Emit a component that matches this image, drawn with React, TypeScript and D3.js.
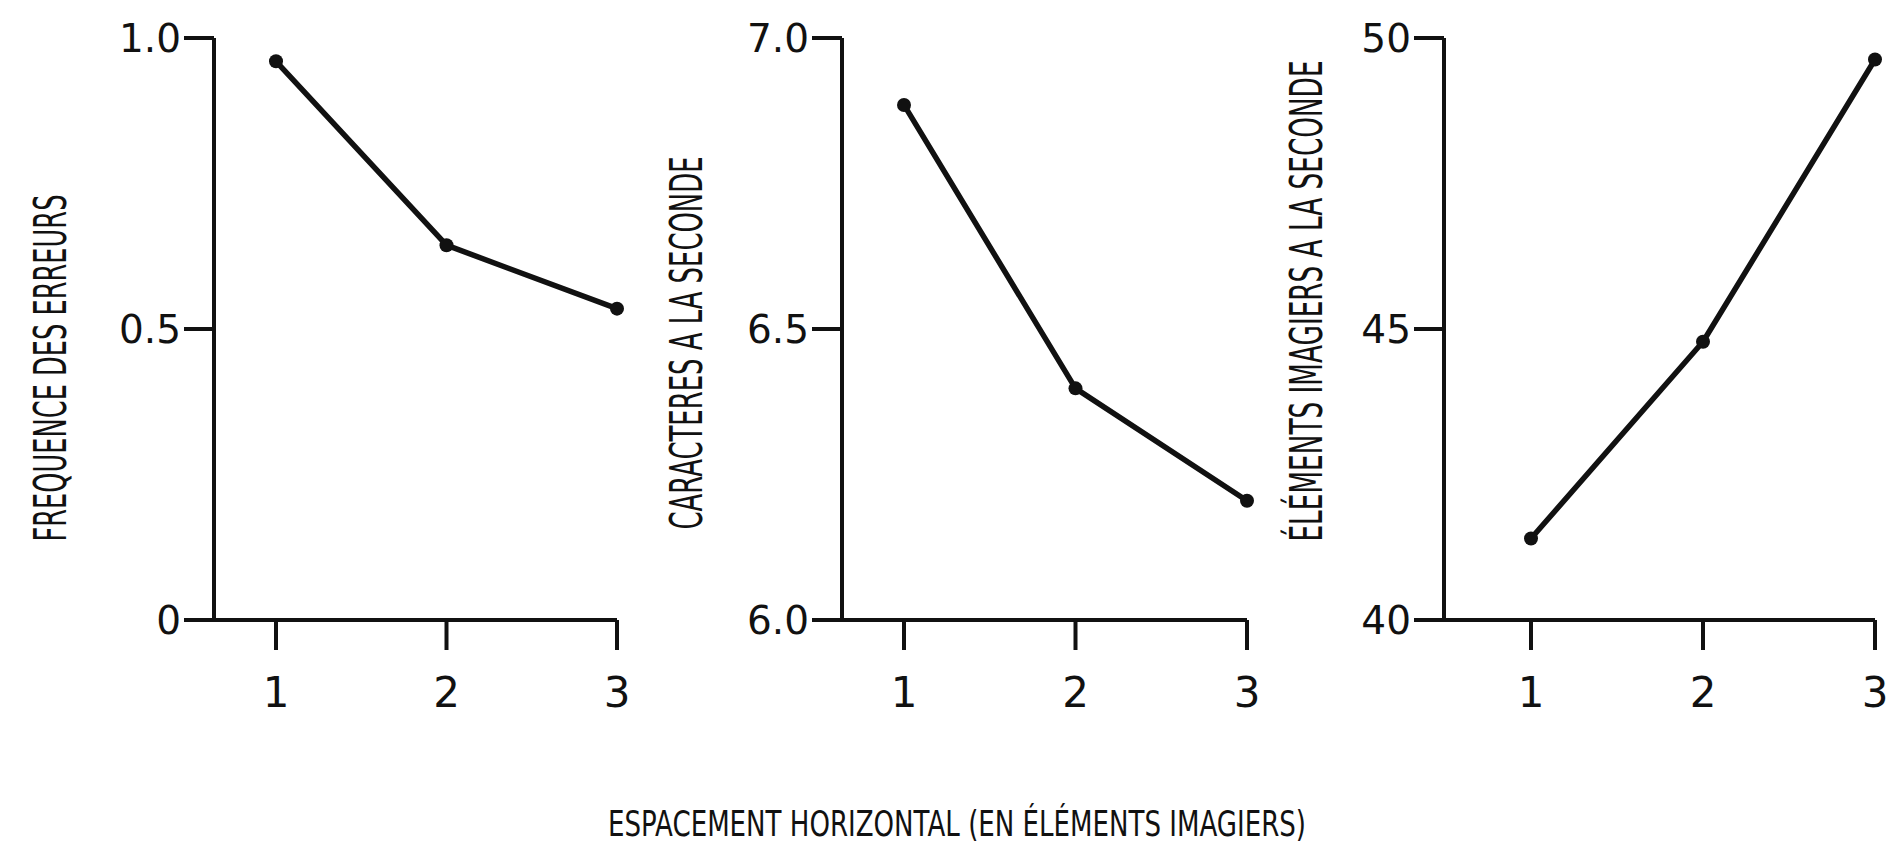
import React from "react";
import * as d3 from "d3";

// Horizontal spacing conditions (in picture elements)
const spacing = [1, 2, 3];

// Measured results per spacing condition
const errorFrequency = [0.96, 0.644, 0.535];
const charsPerSecond = [6.885, 6.398, 6.205];
const pixelsPerSecond = [41.4, 44.78, 49.63];

// Y-axis ticks and their printed labels
const errorTicks = [0, 0.5, 1.0];
const errorTickLabels = ["0", "0.5", "1.0"];
const charTicks = [6.0, 6.5, 7.0];
const charTickLabels = ["6.0", "6.5", "7.0"];
const pixelTicks = [40, 45, 50];
const pixelTickLabels = ["40", "45", "50"];

const xTickLabels = ["1", "2", "3"];

const yTitles = [
  "FREQUENCE DES ERREURS",
  "CARACTERES A LA SECONDE",
  "ÉLÉMENTS IMAGIERS A LA SECONDE",
];
const xTitle = "ESPACEMENT HORIZONTAL (EN ÉLÉMENTS IMAGIERS)";

const W = 1887;
const H = 846;
const INK = "#111";
const TICK_FONT = "'DejaVu Sans', sans-serif";
const TITLE_FONT = "'DejaVu Sans', sans-serif";

type PanelSpec = {
  values: number[];
  ticks: number[];
  tickLabels: string[];
  title: string;
  axisX: number;
  x1: number;
  x3: number;
  titleX: number;
  titleCY: number;
  titleLen: number;
};

const top = 38;
const bottom = 620;

const panels: PanelSpec[] = [
  {
    values: errorFrequency,
    ticks: errorTicks,
    tickLabels: errorTickLabels,
    title: yTitles[0],
    axisX: 214,
    x1: 276,
    x3: 617,
    titleX: 50,
    titleCY: 368,
    titleLen: 347,
  },
  {
    values: charsPerSecond,
    ticks: charTicks,
    tickLabels: charTickLabels,
    title: yTitles[1],
    axisX: 842,
    x1: 904,
    x3: 1247,
    titleX: 686,
    titleCY: 343,
    titleLen: 373,
  },
  {
    values: pixelsPerSecond,
    ticks: pixelTicks,
    tickLabels: pixelTickLabels,
    title: yTitles[2],
    axisX: 1444,
    x1: 1531,
    x3: 1875,
    titleX: 1306,
    titleCY: 301,
    titleLen: 481,
  },
];

// Condensed lettering: a small font stretched vertically so the
// glyphs come out tall and narrow, fitted to the wanted length.
const CHAR_EM = 0.66;
function CondensedText({
  text,
  length,
  capHeight,
  transform,
}: {
  text: string;
  length: number;
  capHeight: number;
  transform: string;
}) {
  const fs = length / (text.length * CHAR_EM);
  const k = capHeight / (0.73 * fs);
  return (
    <g transform={transform}>
      <text
        transform={`scale(1,${k.toFixed(3)})`}
        textAnchor="middle"
        fontFamily={TITLE_FONT}
        fontSize={fs}
        textLength={length}
        lengthAdjust="spacingAndGlyphs"
        fill={INK}
      >
        {text}
      </text>
    </g>
  );
}

function Panel({ p }: { p: PanelSpec }) {
  const x = d3.scaleLinear().domain([1, 3]).range([p.x1, p.x3]);
  const y = d3
    .scaleLinear()
    .domain([p.ticks[0], p.ticks[p.ticks.length - 1]])
    .range([bottom, top]);
  const line = d3
    .line<number>()
    .x((_, i) => x(spacing[i]))
    .y((v) => y(v));
  const tickLen = 30;
  const capH = 32;
  return (
    <g>
      {/* y axis */}
      <line x1={p.axisX} x2={p.axisX} y1={y(p.ticks[p.ticks.length - 1])} y2={bottom} stroke={INK} strokeWidth={4} />
      {/* x axis, extending left to the zero tick */}
      <line x1={p.axisX - tickLen} x2={x(3)} y1={bottom} y2={bottom} stroke={INK} strokeWidth={4} />
      {p.ticks.map((t, i) => (
        <g key={i}>
          <line x1={p.axisX - tickLen} x2={p.axisX} y1={y(t)} y2={y(t)} stroke={INK} strokeWidth={4} />
          <text
            x={p.axisX - tickLen - 3}
            y={y(t)}
            dy="0.36em"
            textAnchor="end"
            fontFamily={TICK_FONT}
            fontSize={39}
            fill={INK}
          >
            {p.tickLabels[i]}
          </text>
        </g>
      ))}
      {spacing.map((s, i) => (
        <g key={i}>
          <line x1={x(s)} x2={x(s)} y1={bottom} y2={bottom + 30} stroke={INK} strokeWidth={4} />
          <text x={x(s)} y={707} textAnchor="middle" fontFamily={TICK_FONT} fontSize={42} fill={INK}>
            {xTickLabels[i]}
          </text>
        </g>
      ))}
      <path d={line(p.values) || ""} fill="none" stroke={INK} strokeWidth={5.5} strokeLinejoin="round" />
      {p.values.map((v, i) => (
        <circle key={i} cx={x(spacing[i])} cy={y(v)} r={7} fill={INK} />
      ))}
      <CondensedText
        text={p.title}
        length={p.titleLen}
        capHeight={capH}
        transform={`translate(${p.titleX + capH / 2},${p.titleCY}) rotate(-90)`}
      />
    </g>
  );
}

export default function App() {
  return (
    <svg
      width={W}
      height={H}
      style={{ position: "fixed", left: 0, top: 0, background: "#fff", display: "block" }}
    >
      <rect width={W} height={H} fill="#fff" />
      {panels.map((p, i) => (
        <Panel key={i} p={p} />
      ))}
      <CondensedText text={xTitle} length={698} capHeight={26} transform="translate(957,836)" />
    </svg>
  );
}
